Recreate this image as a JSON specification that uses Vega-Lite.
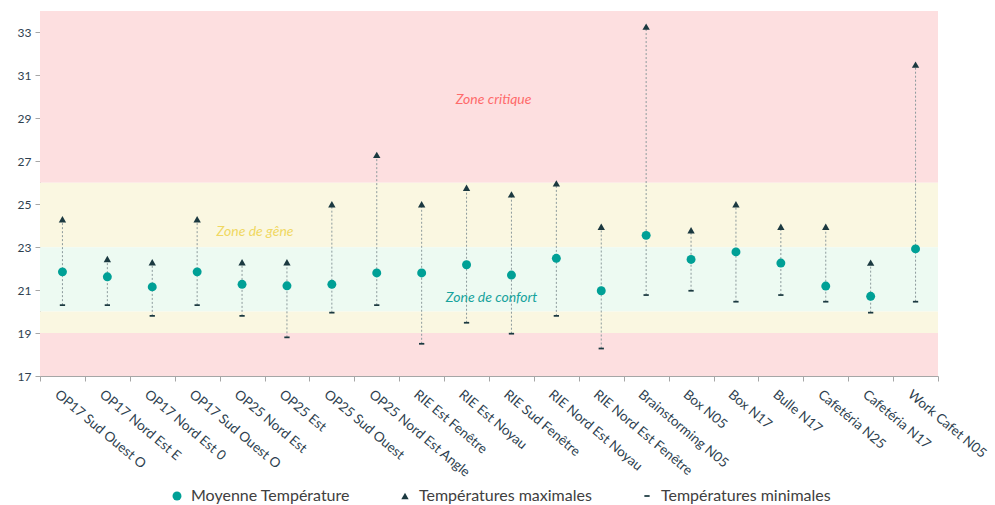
{
  "$schema": "https://vega.github.io/schema/vega-lite/v6.json",
  "width": 898,
  "height": 365,
  "autosize": "none",
  "padding": {"left": 40, "top": 11, "right": 57, "bottom": 129},
  "background": "white",
  "config": {
    "view": {"stroke": null},
    "font": "Lato",
    "axis": {"grid": false, "domainColor": "#a6a6a6", "tickColor": "#a6a6a6", "labelColor": "#2e3f4f", "title": null}
  },
  "datasets": {
    "zones": [
      {"y0": 26, "y1": 34, "c": "critique"},
      {"y0": 23, "y1": 26, "c": "gene"},
      {"y0": 20, "y1": 23, "c": "confort"},
      {"y0": 19, "y1": 20, "c": "gene"},
      {"y0": 17, "y1": 19, "c": "critique"}
    ],
    "temps": [
      {"lieu": "OP17 Sud Ouest O", "moy": 21.85, "max": 24.3, "min": 20.3},
      {"lieu": "OP17 Nord Est E", "moy": 21.62, "max": 22.45, "min": 20.3},
      {"lieu": "OP17 Nord Est 0", "moy": 21.15, "max": 22.3, "min": 19.8},
      {"lieu": "OP17 Sud Ouest O ", "moy": 21.85, "max": 24.3, "min": 20.3},
      {"lieu": "OP25 Nord Est", "moy": 21.27, "max": 22.3, "min": 19.8},
      {"lieu": "OP25 Est", "moy": 21.2, "max": 22.3, "min": 18.8},
      {"lieu": "OP25 Sud Ouest", "moy": 21.27, "max": 25.0, "min": 19.95},
      {"lieu": "OP25 Nord Est Angle", "moy": 21.8, "max": 27.3, "min": 20.3},
      {"lieu": "RIE Est Fenêtre", "moy": 21.8, "max": 25.0, "min": 18.5},
      {"lieu": "RIE Est Noyau", "moy": 22.18, "max": 25.77, "min": 19.48},
      {"lieu": "RIE Sud Fenêtre", "moy": 21.7, "max": 25.46, "min": 18.97},
      {"lieu": "RIE Nord Est Noyau", "moy": 22.48, "max": 25.97, "min": 19.8},
      {"lieu": "RIE Nord Est Fenêtre", "moy": 20.97, "max": 23.95, "min": 18.28},
      {"lieu": "Brainstorming N05", "moy": 23.55, "max": 33.27, "min": 20.77},
      {"lieu": "Box N05", "moy": 22.43, "max": 23.79, "min": 20.97},
      {"lieu": "Box N17", "moy": 22.78, "max": 25.0, "min": 20.46},
      {"lieu": "Bulle N17", "moy": 22.26, "max": 23.95, "min": 20.77},
      {"lieu": "Cafetéria N25", "moy": 21.19, "max": 23.95, "min": 20.46},
      {"lieu": "Cafetéria N17", "moy": 20.71, "max": 22.28, "min": 19.95},
      {"lieu": "Work Cafet N05", "moy": 22.92, "max": 31.5, "min": 20.46}
    ],
    "labels": [
      {"lieu": "RIE Est Noyau", "v": 29.85, "t": "Zone critique", "c": "critique"},
      {"lieu": "OP25 Nord Est", "v": 23.7, "t": "Zone de gêne", "c": "gene"},
      {"lieu": "RIE Est Noyau", "v": 20.63, "t": "Zone de confort", "c": "confort"}
    ]
  },
  "layer": [
    {
      "data": {"name": "zones"},
      "mark": {"type": "rect"},
      "encoding": {
        "y": {"field": "y0", "type": "quantitative", "scale": {"domain": [17, 34], "nice": false, "zero": false}},
        "y2": {"field": "y1"},
        "color": {"field": "c", "type": "nominal", "scale": {"domain": ["critique", "gene", "confort"], "range": ["#fddfe0", "#faf7e1", "#edfaf2"]}, "legend": null}
      }
    },
    {
      "data": {"name": "temps"},
      "mark": {"type": "rule", "strokeDash": [2, 2], "color": "#8c9a9c", "strokeWidth": 1},
      "encoding": {
        "x": {"field": "lieu", "type": "nominal", "sort": null,
          "scale": {"paddingInner": 0, "paddingOuter": 0},
          "axis": {"labelAngle": 40, "labelAlign": "left", "labelBaseline": "top", "labelFontSize": 13.5, "labelPadding": 6, "tickBand": "extent", "tickSize": 5, "labelOffset": -2, "labelLimit": 300,
            "labelExpr": "trim(datum.label)"}},
        "y": {"field": "min", "type": "quantitative",
          "axis": {"values": [17, 19, 21, 23, 25, 27, 29, 31, 33], "tickSize": 5, "labelFontSize": 12, "labelPadding": 4}},
        "y2": {"field": "max"}
      }
    },
    {
      "data": {"name": "temps"},
      "transform": [{"fold": ["moy", "max", "min"], "as": ["serie", "val"]}],
      "mark": {"type": "point", "filled": true, "opacity": 1},
      "encoding": {
        "x": {"field": "lieu", "type": "nominal", "sort": null},
        "y": {"field": "val", "type": "quantitative"},
        "shape": {"field": "serie", "type": "nominal", "scale": {"domain": ["moy", "max", "min"], "range": ["circle", "triangle-up", "M-1,-0.33H1V0.33H-1Z"]},
          "legend": {"orient": "none", "direction": "horizontal", "legendX": 129, "legendY": 477, "title": null, "columnPadding": 47, "labelOffset": 6, "labelFontSize": 16, "labelLimit": 400, "labelColor": "#404040", "symbolOpacity": 1,
            "labelExpr": "datum.label == 'moy' ? 'Moyenne Température' : datum.label == 'max' ? 'Températures maximales' : 'Températures minimales'"}},
        "fill": {"field": "serie", "type": "nominal", "scale": {"domain": ["moy", "max", "min"], "range": ["#00a096", "#1b3940", "#1b3940"]}},
        "size": {"field": "serie", "type": "nominal", "scale": {"domain": ["moy", "max", "min"], "range": [80, 28, 36]}}
      }
    },
    {
      "data": {"name": "labels"},
      "transform": [{"filter": "datum.c == 'critique'"}],
      "mark": {"type": "text", "fontStyle": "italic", "fontSize": 14, "align": "center", "baseline": "middle", "dx": 27, "color": "#ff6b6b"},
      "encoding": {
        "x": {"field": "lieu", "type": "nominal", "sort": null},
        "y": {"field": "v", "type": "quantitative"},
        "text": {"field": "t"}
      }
    },
    {
      "data": {"name": "labels"},
      "transform": [{"filter": "datum.c == 'gene'"}],
      "mark": {"type": "text", "fontStyle": "italic", "fontSize": 14, "align": "center", "baseline": "middle", "dx": 13, "color": "#f0d862"},
      "encoding": {
        "x": {"field": "lieu", "type": "nominal", "sort": null},
        "y": {"field": "v", "type": "quantitative"},
        "text": {"field": "t"}
      }
    },
    {
      "data": {"name": "labels"},
      "transform": [{"filter": "datum.c == 'confort'"}],
      "mark": {"type": "text", "fontStyle": "italic", "fontSize": 14, "align": "center", "baseline": "middle", "dx": 25, "color": "#17a39d"},
      "encoding": {
        "x": {"field": "lieu", "type": "nominal", "sort": null},
        "y": {"field": "v", "type": "quantitative"},
        "text": {"field": "t"}
      }
    }
  ],
  "resolve": {"scale": {"color": "independent"}},
  "encoding": {}
}
